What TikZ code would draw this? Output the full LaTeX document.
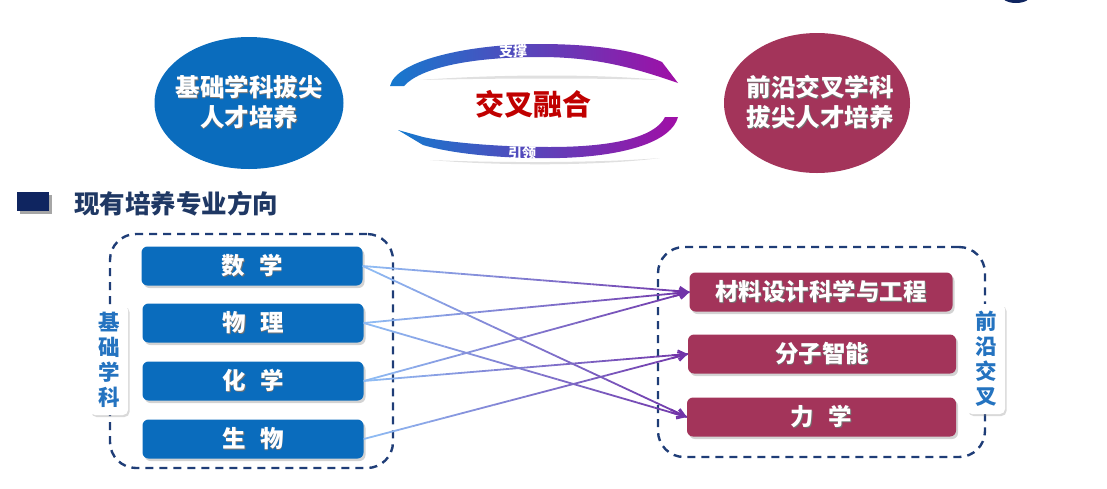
\documentclass[tikz,border=0pt]{standalone}
\usepackage{fontspec}
\newfontfamily\cjk{Noto Sans CJK SC}
\usetikzlibrary{arrows.meta,shadows,calc,shapes.geometric}
\definecolor{bblue}{HTML}{0A6CBD}
\definecolor{crim}{HTML}{A3345A}
\definecolor{navy}{HTML}{1F3D77}
\definecolor{hnavy}{HTML}{0F2560}
\definecolor{htext}{HTML}{1F3864}
\definecolor{lblue}{HTML}{8FBBF3}
\definecolor{purp}{HTML}{7133A8}
\definecolor{lab}{HTML}{2473C0}
\definecolor{dred}{HTML}{C00000}
\definecolor{ringL}{HTML}{1579CE}
\definecolor{ringR}{HTML}{A00EA6}
\newcommand\shtx[1]{\leavevmode\rlap{\kern0.9pt\raisebox{-0.9pt}{\color{black!55}#1}}#1}
\begin{document}
\begin{tikzpicture}[x=1pt,y=-1pt,
  sbox/.style={rounded corners=6pt, minimum height=39pt, inner sep=0pt, text=white,
    font=\cjk\bfseries\fontsize{23.5}{23.5}\selectfont,
    drop shadow={shadow xshift=2pt,shadow yshift=-2.5pt,opacity=0.35}},
  lbox/.style={sbox, fill=bblue, minimum width=221pt},
  rbox/.style={sbox, fill=crim, minimum width=266pt},
  dashbox/.style={draw=navy, line width=2.4pt, dash pattern=on 8pt off 6pt, rounded corners=26pt, inner sep=0pt},
  tag/.style={fill=white, rounded corners=5pt, minimum width=38pt, minimum height=110pt, inner sep=0pt,
    text=lab, align=center, font=\cjk\bfseries\fontsize{21.5}{25}\selectfont,
    drop shadow={shadow xshift=1.5pt,shadow yshift=-2pt,opacity=0.3}},
  bigell/.style={ellipse, inner sep=0pt},
  elltext/.style={text=white, align=center, font=\cjk\bfseries\fontsize{24.5}{30}\selectfont},
  conn/.style={line width=1.8pt},
  tip/.style={-{Straight Barb[length=8pt,width=9pt]}}
]
\useasboundingbox (0,0) rectangle (1107,488);
% logo fragment
\begin{scope}
\clip (0,0) rectangle (1107,488);
\fill[hnavy] (1016,-5) ellipse (15pt and 8pt);
\end{scope}

% big ellipses
\node[bigell, fill=bblue, minimum width=189pt, minimum height=132pt] (e1) at (249,103) {};
\node[elltext] (e1t) at (e1.center) {\shtx{基础学科拔尖}\\\shtx{人才培养}};
\node[bigell, fill=crim, minimum width=186pt, minimum height=140pt] (e2) at (817,103) {};
\node[elltext] (e2t) at ([xshift=3pt]e2.center) {\shtx{前沿交叉学科}\\\shtx{拔尖人才培养}};

% ring
\fill[black!12] (420,80) .. controls (500,74) and (600,74) .. (660,80) .. controls (600,78) and (500,78) .. (420,80) -- cycle;
\fill[black!12] (430,160) .. controls (500,166) and (600,166) .. (660,158) .. controls (600,163) and (500,163) .. (430,160) -- cycle;
\shade[left color=ringL, right color=ringR]
  (390,86) .. controls (396,60) and (470,44) .. (540,44) .. controls (600,44) and (640,52) .. (662,62)
  -- (678,83) .. controls (640,70) and (600,57) .. (540,57) .. controls (470,57) and (420,68) .. (404,86) -- cycle;
\shade[left color=ringL, right color=ringR]
  (398,130) -- (423,145) .. controls (460,156) and (520,159) .. (560,158) .. controls (630,156) and (672,140) .. (678,117)
  -- (665,117) .. controls (655,138) and (610,147) .. (550,147) .. controls (490,147) and (440,141) .. (423,137) -- cycle;
\node[text=white, font=\cjk\bfseries\fontsize{14}{14}\selectfont] (t1) at (513,51) {支撑};
\node[text=white, font=\cjk\bfseries\fontsize{14}{14}\selectfont] (t2) at (522,153) {引领};
\node[text=dred, font=\cjk\bfseries\fontsize{29}{29}\selectfont] (mid) at (533,104) {交叉融合};

% header
\fill[black!35] (20,195) rectangle (52,214);
\fill[hnavy] (17,192) rectangle (49,211);
\node[text=htext, font=\cjk\bfseries\fontsize{25.5}{25.5}\selectfont] (hd) at (176,204) {现有培养专业方向};

% containers
\node[dashbox, minimum width=283pt, minimum height=234pt] (lg) at (251.5,351) {};
\node[dashbox, minimum width=327pt, minimum height=210pt] (rg) at (821.5,352) {};
\node[tag] (lt) at (109,360) {基\\础\\学\\科};
\node[tag] (rt) at (986,359) {前\\沿\\交\\叉};

% left boxes
\node[lbox] (m) at (252,266) {\shtx{数}\hspace{0.6em}\shtx{学}};
\node[lbox] (p) at (253,323) {\shtx{物}\hspace{0.6em}\shtx{理}};
\node[lbox] (h) at (253,381) {\shtx{化}\hspace{0.6em}\shtx{学}};
\node[lbox] (s) at (253,439) {\shtx{生}\hspace{0.6em}\shtx{物}};

% right boxes
\node[rbox, minimum width=263pt] (c1) at (821,292) {\shtx{材料设计科学与工程}};
\node[rbox, minimum width=268pt] (c2) at (822,354) {\shtx{分子智能}};
\node[rbox, minimum width=269pt] (c3) at (821.5,417) {\shtx{力}\hspace{0.6em}\shtx{学}};

% connectors with colour gradient
\foreach \s/\t in {m/c1,m/c3,p/c1,p/c3,h/c1,h/c2,s/c2}{
  \foreach \i in {0,...,19}{
    \pgfmathtruncatemacro\pc{\i*5}
    \draw[conn, draw=purp!\pc!lblue] ($(\s.east)!{\i/20}!(\t.west)$) -- ($(\s.east)!{(\i+1)/20}!(\t.west)$);
  }
  \draw[conn, draw=purp, tip] ($(\s.east)!0.95!(\t.west)$) -- (\t.west);
}
\end{tikzpicture}
\end{document}
